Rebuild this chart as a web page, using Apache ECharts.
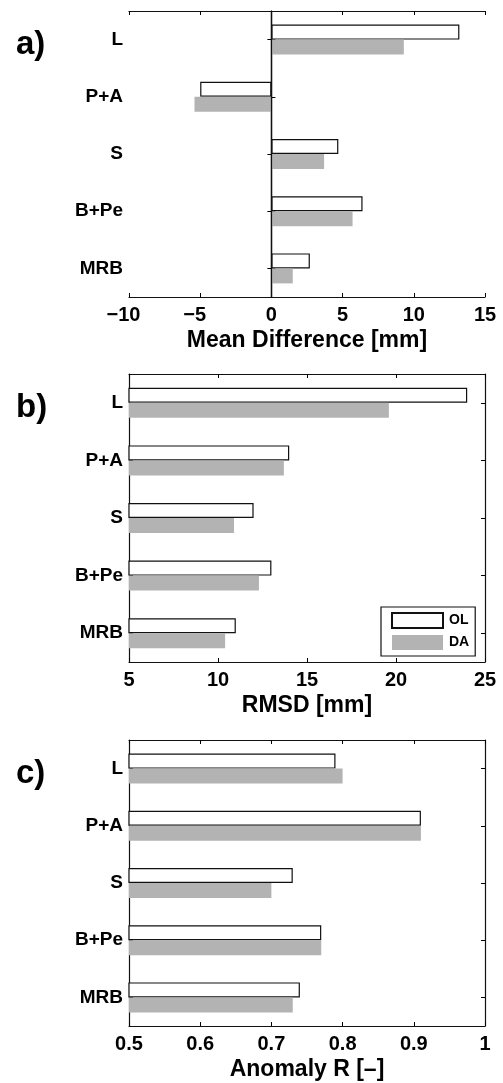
<!DOCTYPE html>
<html>
<head>
<meta charset="utf-8">
<script src="https://cdn.jsdelivr.net/npm/echarts@6/dist/echarts.min.js"></script>
<style>
html,body{margin:0;padding:0;background:#fff;}
#chart{width:503px;height:1083px;}
</style>
</head>
<body>
<div id="chart"></div>
<script>
const categories = ['L', 'P+A', 'S', 'B+Pe', 'MRB'];
const seriesNames = ['OL', 'DA'];
const meanDiffOL = [13.2, -5.0, 4.7, 6.4, 2.7];
const meanDiffDA = [9.3, -5.4, 3.7, 5.7, 1.5];
const rmsdOL = [24.0, 14.0, 12.0, 13.0, 11.0];
const rmsdDA = [19.6, 13.7, 10.9, 12.3, 10.4];
const anomOL = [0.79, 0.91, 0.73, 0.77, 0.74];
const anomDA = [0.80, 0.91, 0.70, 0.77, 0.73];
const panelLabels = ['a)', 'b)', 'c)'];
const axisTitles = ['Mean Difference [mm]', 'RMSD [mm]', 'Anomaly R [–]'];
const axisMin = [-10, 5, 0.5];
const axisMax = [15, 25, 1];
const axisStep = [5, 5, 0.1];

const FONT = '"Liberation Sans", Arial, Helvetica, sans-serif';
const gridTops = [11, 374, 740];
const gridHeights = [286, 288, 286];
const panels = [[meanDiffOL, meanDiffDA], [rmsdOL, rmsdDA], [anomOL, anomDA]];

const grid = [], xAxis = [], yAxis = [], series = [], graphic = [];
const black = '#000';
const tickFont = {color: black, fontFamily: FONT, fontWeight: 'bold', fontSize: 20};
gridTops.forEach((top, i) => {
  grid.push({left: 129, width: 356, top: top, height: gridHeights[i], containLabel: false});
  const base = {
    type: 'value', gridIndex: i, min: axisMin[i], max: axisMax[i], interval: axisStep[i],
    axisLine: {show: true, lineStyle: {color: '#111', width: 1.2}},
    axisTick: {show: true, inside: true, length: 4, lineStyle: {color: black}},
    splitLine: {show: false}
  };
  xAxis.push(Object.assign({}, base, {
    position: 'bottom',
    axisLabel: Object.assign({show: true, margin: 8,
      formatter: v => (v < 0 ? '{neg|−' + Math.abs(v) + '}' : String(Math.round(v * 10) / 10)),
      rich: {neg: Object.assign({padding: [0, 11, 0, 0]}, tickFont)}
    }, tickFont),
    name: axisTitles[i], nameLocation: 'middle', nameGap: 32,
    nameTextStyle: {color: black, fontFamily: FONT, fontWeight: 'bold', fontSize: 23}
  }));
  xAxis.push(Object.assign({}, base, {position: 'top', axisLabel: {show: false}}));
  const ybase = {
    type: 'category', gridIndex: i, data: categories, inverse: true,
    axisLine: {show: true, lineStyle: {color: '#111', width: 1.2}},
    axisTick: {show: true, inside: true, length: 4, alignWithLabel: true, lineStyle: {color: black}},
    splitLine: {show: false}
  };
  yAxis.push(Object.assign({}, ybase, {
    position: 'left',
    axisLabel: {show: true, color: black, fontFamily: FONT, fontWeight: 'bold', fontSize: 19, margin: 6}
  }));
  yAxis.push(Object.assign({}, ybase, {position: 'right', axisLabel: {show: false}}));

  const ol = {
    name: seriesNames[0], type: 'bar', xAxisIndex: 2 * i, yAxisIndex: 2 * i,
    data: panels[i][0], barWidth: 15, barGap: '0%',
    itemStyle: {color: '#ffffff', borderColor: '#111', borderWidth: 1.2},
    emphasis: {disabled: true}, animation: false
  };
  if (i === 0) {
    ol.markLine = {silent: true, symbol: ['none', 'none'], label: {show: false},
      lineStyle: {color: '#111', width: 1.2, type: 'solid'}, data: [{xAxis: 0}], animation: false};
  }
  series.push(ol);
  series.push({
    name: seriesNames[1], type: 'bar', xAxisIndex: 2 * i, yAxisIndex: 2 * i,
    data: panels[i][1], barWidth: 15, barGap: '0%',
    itemStyle: {color: '#b3b3b3'},
    emphasis: {disabled: true}, animation: false
  });
  graphic.push({
    type: 'text', x: 16, y: top + 34,
    style: {text: panelLabels[i], font: 'bold 33px ' + FONT, fill: black, verticalAlign: 'middle', align: 'left'}
  });
});

const chart = echarts.init(document.getElementById('chart'), null, {renderer: 'canvas'});
chart.setOption({
  animation: false,
  backgroundColor: '#fff',
  textStyle: {fontFamily: FONT},
  grid: grid, xAxis: xAxis, yAxis: yAxis, series: series, graphic: graphic,
  legend: {
    data: [{name: 'OL', icon: 'rect'}, {name: 'DA', icon: 'rect'}],
    orient: 'vertical', left: 381, top: 607,
    padding: [5, 6, 6, 10], itemGap: 6, itemWidth: 51, itemHeight: 15,
    borderColor: '#111', borderWidth: 1.2, backgroundColor: '#fff',
    selectedMode: false,
    textStyle: {color: black, fontFamily: FONT, fontWeight: 'bold', fontSize: 14, padding: [0, 0, 0, 1]}
  }
});
</script>
</body>
</html>
